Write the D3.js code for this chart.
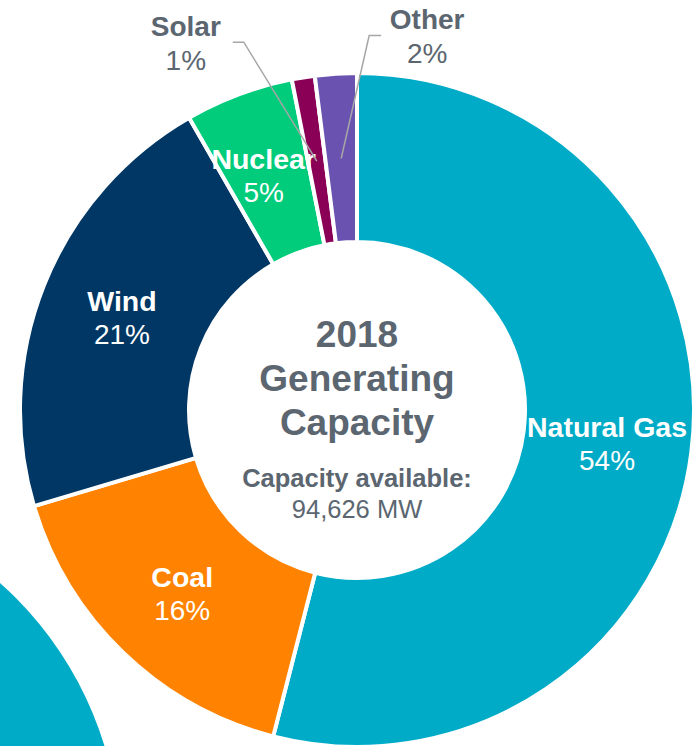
<!DOCTYPE html>
<html>
<head>
<meta charset="utf-8">
<script src="https://cdn.jsdelivr.net/npm/d3@7"></script>
<style>
  body { margin: 0; background: #fff; }
  svg { display: block; font-family: "Liberation Sans", Arial, sans-serif; }
</style>
</head>
<body>
<div id="container"><svg></svg></div>
<script>
let width = 697;
let height = 746;

// data, clockwise from 12 o'clock
let sources = ['Natural Gas', 'Coal', 'Wind', 'Nuclear', 'Solar', 'Other'];
let shares = [54, 16.4, 21.3, 5.2, 1.1, 2.0];
let sourceColors = ['#00abc7', '#ff8300', '#003764', '#00cc7c', '#8a0057', '#6a52b1'];
let outsideLabels = ['Solar', 'Other'];
let titleLines = ['2018', 'Generating', 'Capacity'];
let capacityLabel = 'Capacity available:';
let capacityValue = '94,626 MW';

let textGrey = '#5b6670';
let cx = 357, cy = 410;
let innerR = 168, outerR = 337, labelR = 252;

let svg = d3.select('#container').select('svg')
    .attr('width', width)
    .attr('height', height);

// piece of the neighbouring chart, cut off at bottom left
svg.append('circle')
    .attr('cx', -237)
    .attr('cy', 850)
    .attr('r', 357)
    .attr('fill', sourceColors[0]);

let rows = sources.map((s, i) => ({name: s, value: shares[i], color: sourceColors[i]}));

let pie = d3.pie().sort(null).value(d => d.value);
let arc = d3.arc().innerRadius(innerR).outerRadius(outerR);
let labelArc = d3.arc().innerRadius(labelR).outerRadius(labelR);
let arcs = pie(rows);

let g = svg.append('g').attr('transform', `translate(${cx},${cy})`);

g.selectAll('path.slice')
    .data(arcs)
    .join('path')
    .attr('class', 'slice')
    .attr('d', arc)
    .attr('fill', d => d.data.color)
    .attr('stroke', '#fff')
    .attr('stroke-width', 4);

// inside labels
let inside = arcs.filter(d => !outsideLabels.includes(d.data.name));
let nudge = {'Natural Gas': 0, 'Coal': 0, 'Wind': -1, 'Nuclear': -5};
let lab = g.selectAll('g.lab')
    .data(inside)
    .join('g')
    .attr('class', 'lab')
    .attr('transform', d => {
        let [x, y] = labelArc.centroid(d);
        return `translate(${x + nudge[d.data.name]},${y})`;
    });
lab.append('text')
    .attr('y', -5)
    .attr('text-anchor', 'middle')
    .attr('fill', '#fff')
    .attr('font-size', 28.5)
    .attr('font-weight', 'bold')
    .text(d => d.data.name);
lab.append('text')
    .attr('y', 28)
    .attr('text-anchor', 'middle')
    .attr('fill', '#fff')
    .attr('font-size', 28)
    .text(d => Math.round(d.data.value) + '%');

// outside labels with leader lines (elbow offsets relative to centroid)
let elbows = {'Solar': [-73, -119, -11], 'Other': [28, -123, 12]};
let labelPos = {'Solar': [-131, -125], 'Other': [86, -129]};
let outside = arcs.filter(d => outsideLabels.includes(d.data.name));
outside.forEach(d => {
    let [x0, y0] = labelArc.centroid(d);
    let e = elbows[d.data.name];
    let ex = x0 + e[0], ey = y0 + e[1];
    g.append('polyline')
        .attr('points', [[x0, y0], [ex, ey], [ex + e[2], ey]].map(p => p.join(',')).join(' '))
        .attr('fill', 'none')
        .attr('stroke', '#a6a6a6')
        .attr('stroke-width', 1.5);
    let p = labelPos[d.data.name];
    let t = g.append('g').attr('transform', `translate(${x0 + p[0]},${y0 + p[1]})`);
    t.append('text')
        .attr('text-anchor', 'middle')
        .attr('fill', textGrey)
        .attr('font-size', 28)
        .attr('font-weight', 'bold')
        .text(d.data.name);
    t.append('text')
        .attr('y', 34)
        .attr('text-anchor', 'middle')
        .attr('fill', textGrey)
        .attr('font-size', 28)
        .text(Math.round(d.data.value) + '%');
});

// centre text
let title = g.append('text')
    .attr('text-anchor', 'middle')
    .attr('fill', textGrey)
    .attr('font-size', 37)
    .attr('font-weight', 'bold');
titleLines.forEach((t, i) => {
    title.append('tspan').attr('x', 0).attr('y', -63 + i * 44).text(t);
});
g.append('text')
    .attr('y', 77)
    .attr('text-anchor', 'middle')
    .attr('fill', textGrey)
    .attr('font-size', 25.5)
    .attr('font-weight', 'bold')
    .text(capacityLabel);
g.append('text')
    .attr('y', 108)
    .attr('text-anchor', 'middle')
    .attr('fill', textGrey)
    .attr('font-size', 25.5)
    .text(capacityValue);
</script>
</body>
</html>
